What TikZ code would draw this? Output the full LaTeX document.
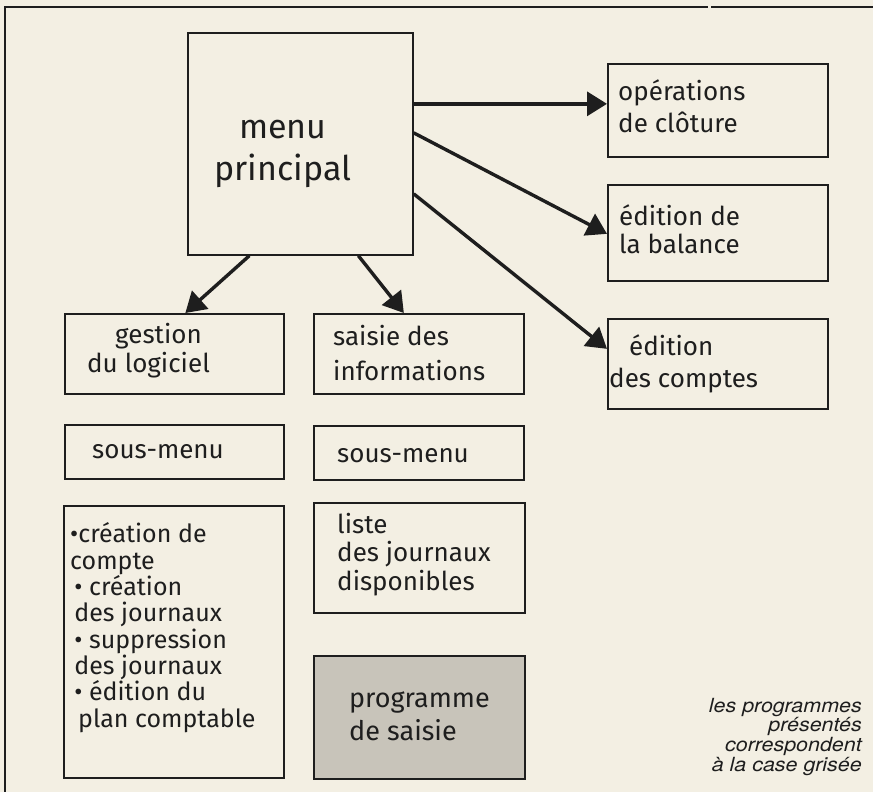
\documentclass[tikz,border=0pt]{standalone}
\usepackage{fontspec}
\setmainfont{Fira Sans}
\newfontfamily\capfont[FakeStretch=1.1]{TeX Gyre Heros}
\usetikzlibrary{arrows.meta}
\definecolor{bgcol}{HTML}{F3EFE3}
\definecolor{greycase}{HTML}{C8C4BA}
\definecolor{ink}{HTML}{1E1E1E}
\tikzset{
  boxnode/.style={draw=ink, line width=1.7pt, rectangle, inner sep=0pt, anchor=north west},
  txt/.style={text=ink, inner sep=0pt, anchor=base west, align=left, font=\fontsize{26}{30}\selectfont},
  bigtxt/.style={text=ink, inner sep=0pt, anchor=base, align=center, font=\fontsize{34}{42}\selectfont},
  listtxt/.style={text=ink, inner sep=0pt, anchor=base west, align=left, font=\fontsize{25}{26.3}\selectfont},
  arr/.style={draw=ink, line width=3.4pt, -{Triangle[length=20pt,width=24pt]}},
  captxt/.style={text=ink, inner sep=0pt, anchor=base east, align=right, font=\capfont\itshape\fontsize{19.5}{19.6}\selectfont}
}
\begin{document}
\begin{tikzpicture}[x=1pt,y=-1pt]
\fill[bgcol] (0,0) rectangle (873,792);
\useasboundingbox (0,0) rectangle (873,792);
% frame
\draw[ink, line width=2pt] (5,792) -- (5,7) -- (708,7);
\draw[ink, line width=2pt] (711,7) -- (873,7);
% boxes
\node[boxnode, minimum width=225pt, minimum height=222pt] (menu) at (187,32) {};
\node[boxnode, minimum width=220pt, minimum height=93pt] (ops) at (607,63) {};
\node[boxnode, minimum width=220pt, minimum height=96pt] (bal) at (607,184) {};
\node[boxnode, minimum width=220pt, minimum height=90pt] (cpt) at (607,318) {};
\node[boxnode, minimum width=219pt, minimum height=80pt] (gest) at (64,313) {};
\node[boxnode, minimum width=210pt, minimum height=80pt] (saisie) at (313,313) {};
\node[boxnode, minimum width=219pt, minimum height=54pt] (sm1) at (64,424) {};
\node[boxnode, minimum width=210pt, minimum height=54pt] (sm2) at (313,425) {};
\node[boxnode, minimum width=220pt, minimum height=272pt] (lst) at (63,505) {};
\node[boxnode, minimum width=211pt, minimum height=110pt] (jrn) at (313,502) {};
\node[boxnode, fill=greycase, minimum width=211pt, minimum height=123pt] (prog) at (313,655) {};
% texts (anchor = baseline of last line)
\node[bigtxt] (tmenu) at (283,180) {menu\\principal};
\node[txt, font=\fontsize{26}{32}\selectfont] (tops) at (618,132) {opérations\\de clôture};
\node[txt, font=\fontsize{26}{28}\selectfont] (tbal) at (619,253) {édition de\\la balance};
\node[txt, font=\fontsize{26}{32}\selectfont] (tcpt) at (609,387) {\hspace*{20pt}édition\\des comptes};
\node[txt, font=\fontsize{26}{29}\selectfont] (tgest) at (87,372) {\hspace*{28pt}gestion\\du logiciel};
\node[txt, font=\fontsize{26}{35}\selectfont] (tsaisie) at (333,380) {saisie des\\informations};
\node[txt] (tsm1) at (92,458) {sous-menu};
\node[txt] (tsm2) at (337,462) {sous-menu};
\node[txt, font=\fontsize{26}{28.5}\selectfont] (tjrn) at (337,590) {liste\\des journaux\\disponibles};
\node[txt, font=\fontsize{27}{33}\selectfont] (tprog) at (349,740) {programme\\de saisie};
\node[listtxt] (tlst) at (70,727) {•création de\\compte\\\,• création\\\,des journaux\\\,• suppression\\\,des journaux\\\,• édition du\\\hspace*{8pt}plan comptable};
\node[captxt] (tcap) at (862,771) {les programmes\\présentés\\correspondent\\à la case grisée};
% arrows
\draw[arr] ([yshift=40pt]menu.east) -- ([yshift=6.5pt]ops.west);
\draw[arr] ([yshift=11pt]menu.east) -- ([yshift=-1pt]bal.west);
\draw[arr] ([yshift=-50pt]menu.east) -- ([yshift=15pt]cpt.west);
\draw[arr] ([xshift=-51pt]menu.south) -- ([xshift=11pt]gest.north);
\draw[arr] ([xshift=58pt]menu.south) -- ([xshift=-15pt]saisie.north);
\end{tikzpicture}
\end{document}
